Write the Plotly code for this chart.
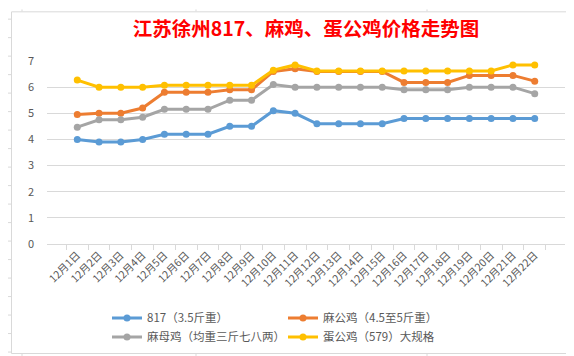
import plotly.graph_objects as go

dates = ["12月1日", "12月2日", "12月3日", "12月4日", "12月5日", "12月6日", "12月7日",
         "12月8日", "12月9日", "12月10日", "12月11日", "12月12日", "12月13日", "12月14日",
         "12月15日", "12月16日", "12月17日", "12月18日", "12月19日", "12月20日",
         "12月21日", "12月22日"]

s817 = [4.0, 3.9, 3.9, 4.0, 4.2, 4.2, 4.2, 4.5, 4.5, 5.1, 5.0, 4.6, 4.6, 4.6, 4.6,
        4.8, 4.8, 4.8, 4.8, 4.8, 4.8, 4.8]
magong = [4.95, 5.0, 5.0, 5.2, 5.8, 5.8, 5.8, 5.9, 5.9, 6.6, 6.7, 6.6, 6.6, 6.6, 6.6,
          6.18, 6.18, 6.18, 6.45, 6.45, 6.45, 6.23]
mamu = [4.47, 4.75, 4.75, 4.85, 5.15, 5.15, 5.15, 5.5, 5.5, 6.1, 6.0, 6.0, 6.0, 6.0, 6.0,
        5.9, 5.9, 5.9, 6.0, 6.0, 6.0, 5.75]
danggong = [6.27, 6.0, 6.0, 6.0, 6.07, 6.07, 6.07, 6.07, 6.07, 6.65, 6.85, 6.62, 6.62,
            6.62, 6.62, 6.62, 6.62, 6.62, 6.62, 6.62, 6.85, 6.85]

names = ["817（3.5斤重）", "麻公鸡（4.5至5斤重）", "麻母鸡（均重三斤七八两）", "蛋公鸡（579）大规格"]
colors = ["#5B9BD5", "#ED7D31", "#A5A5A5", "#FFC000"]
series = [s817, magong, mamu, danggong]

FONT = "Noto Sans CJK SC, Noto Sans, sans-serif"

fig = go.Figure()
for name, col, vals in zip(names, colors, series):
    fig.add_trace(go.Scatter(
        x=dates, y=vals, name=name, mode="lines+markers",
        line=dict(color=col, width=3),
        marker=dict(color=col, size=7),
    ))

W, H = 574, 356
ml, mr, mt, mb = 39, 17, 53, 115
pw, ph = W - ml - mr, H - mt - mb

def px2x(px):
    return (px - ml) / pw

def px2y(py):
    return (H - mb - py) / ph

shapes = []
# chart border
shapes.append(dict(type="rect", xref="paper", yref="paper",
                   x0=px2x(3.5), x1=px2x(570.5), y0=px2y(353.5), y1=px2y(2.5),
                   line=dict(color="#D9D9D9", width=1), layer="below"))
# spreadsheet grid stubs outside chart
for k in range(19):
    yy = 10 + 19 * k
    if yy > 353:
        break
    shapes.append(dict(type="line", xref="paper", yref="paper",
                       x0=px2x(0), x1=px2x(3), y0=px2y(yy), y1=px2y(yy),
                       line=dict(color="#D9D9D9", width=1)))
    shapes.append(dict(type="line", xref="paper", yref="paper",
                       x0=px2x(571), x1=px2x(574), y0=px2y(yy), y1=px2y(yy),
                       line=dict(color="#D9D9D9", width=1)))
for xx in [14, 188, 419]:
    shapes.append(dict(type="line", xref="paper", yref="paper",
                       x0=px2x(xx), x1=px2x(xx), y0=px2y(0), y1=px2y(2),
                       line=dict(color="#D9D9D9", width=1)))
    shapes.append(dict(type="line", xref="paper", yref="paper",
                       x0=px2x(xx), x1=px2x(xx), y0=px2y(354), y1=px2y(356),
                       line=dict(color="#D9D9D9", width=1)))

fig.update_layout(
    width=W, height=H,
    margin=dict(l=ml, r=mr, t=mt, b=mb, pad=0),
    paper_bgcolor="white", plot_bgcolor="white",
    font=dict(family=FONT, color="#595959", size=11),
    title=dict(text="<b>江苏徐州817、麻鸡、蛋公鸡价格走势图</b>",
               font=dict(family=FONT, size=19.5, color="#FF0000"),
               x=0.5, xref="paper", xanchor="center",
               y=1 - 21 / H, yanchor="middle"),
    showlegend=True,
    legend=dict(orientation="h", x=px2x(99), xanchor="left",
                y=px2y(302), yanchor="top",
                font=dict(family=FONT, size=11.5, color="#595959"),
                entrywidth=131, entrywidthmode="pixels",
                tracegroupgap=0, itemwidth=30, bgcolor="rgba(0,0,0,0)"),
    shapes=shapes,
)

fig.update_xaxes(
    type="category", tickangle=-45, tickson="boundaries",
    ticks="outside", ticklen=5, tickcolor="#D9D9D9",
    showline=True, linecolor="#D9D9D9", linewidth=1,
    showgrid=False, zeroline=False,
    tickfont=dict(family=FONT, size=10.5, color="#595959"),
)
fig.update_yaxes(
    range=[0, 7], dtick=1, showgrid=True, gridcolor="#D9D9D9", gridwidth=1,
    zeroline=False, showline=False, ticks="",
    ticklabelstandoff=12,
    tickfont=dict(family=FONT, size=11, color="#595959"),
)

fig.write_html("out.html")
